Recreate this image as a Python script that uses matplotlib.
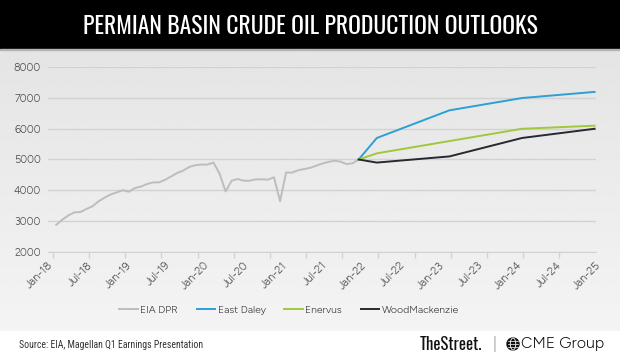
import numpy as np
import pandas as pd
import matplotlib.pyplot as plt
from matplotlib.patches import Rectangle, Ellipse
from matplotlib.lines import Line2D

# EIA DPR monthly, Jan-18 .. Mar-22 (kb/d)
eia_dates = pd.period_range('2018-01', '2022-03', freq='M')
eia_values = [2875, 3040, 3180, 3280, 3290, 3390, 3480, 3640, 3760, 3860, 3930, 4000,
              3950, 4070, 4120, 4200, 4255, 4255, 4340, 4450, 4560, 4640, 4760, 4815,
              4835, 4835, 4900, 4540, 3960, 4310, 4365, 4310, 4310, 4355, 4355, 4345,
              4420, 3645, 4575, 4575, 4650, 4690, 4730, 4800, 4870, 4920, 4960, 4930,
              4850, 4880, 5000]

# outlooks
fc_dates = pd.PeriodIndex(['2022-03', '2022-06', '2023-06', '2024-06', '2025-06'], freq='M')
east_daley = [5000, 5700, 6600, 7000, 7200]
enervus = [5000, 5200, 5600, 6000, 6100]
woodmac = [5000, 4900, 5100, 5700, 6000]

tick_labels = ['Jan-18', 'Jul-18', 'Jan-19', 'Jul-19', 'Jan-20', 'Jul-20', 'Jan-21', 'Jul-21',
               'Jan-22', 'Jul-22', 'Jan-23', 'Jul-23', 'Jan-24', 'Jul-24', 'Jan-25']


def month_index(p):
    return (p.year - 2018) * 12 + p.month - 1


FONT = ['Figtree', 'DejaVu Sans']
TITLE = ['Oswald', 'DejaVu Sans']
NARROW = ['Roboto Condensed', 'DejaVu Sans']

W, H = 620, 363
fig = plt.figure(figsize=(W / 100, H / 100), dpi=100)

# background: title bar, gray chart panel, white footer
bg = fig.add_axes([0, 0, 1, 1], zorder=-5)
bg.set_xlim(0, 1)
bg.set_ylim(0, 1)
bg.axis('off')
grad = np.linspace(0.955, 0.895, 200).reshape(-1, 1)
bg.imshow(grad, cmap='gray', vmin=0, vmax=1, aspect='auto',
          extent=(0, 1, 32 / H, 1 - 50 / H), origin='lower')
bg.add_patch(Rectangle((0, 0), 1, 32 / H, color='white'))
bg.add_patch(Rectangle((0, 1 - 49 / H), 1, 49 / H, color='black'))
bg.add_patch(Rectangle((0, 1 - 50 / H), 1, 1 / H, color='#b5b5b5'))

fig.text(310 / W, 1 - 26 / H, 'PERMIAN BASIN CRUDE OIL PRODUCTION OUTLOOKS', color='white',
         fontsize=17, fontweight='bold', family=TITLE, ha='center', va='center')

ax = fig.add_axes([48 / W, 1 - 251.7 / H, (595.5 - 48) / W, (251.7 - 67.3) / H])
ax.set_facecolor('none')

ax.plot([month_index(p) for p in eia_dates], eia_values, color='#bdbdbd', lw=1.4, label='EIA DPR')
fx = [month_index(p) for p in fc_dates]
ax.plot(fx, east_daley, color='#2c9fd6', lw=1.4, label='East Daley')
ax.plot(fx, enervus, color='#9fc93c', lw=1.4, label='Enervus')
ax.plot(fx, woodmac, color='#262930', lw=1.4, label='WoodMackenzie')

x0, x1 = -0.56, 89.15
ax.set_xlim(x0, x1)
ax.set_ylim(2000, 8000)
ax.set_yticks(range(2000, 8001, 1000))
ax.yaxis.grid(True, color='#d2d2d2', lw=1)
ax.set_axisbelow(True)
for s in ['top', 'right', 'left']:
    ax.spines[s].set_visible(False)
ax.spines['bottom'].set_color('#d2d2d2')
ax.tick_params(axis='y', length=0, pad=5, labelsize=7.8, labelcolor='#4a4a4a')
for t in ax.get_yticklabels():
    t.set_family(FONT)

ax.set_xticks(np.linspace(x0 - 0.8, x1, len(tick_labels)))
ax.set_xticklabels(tick_labels, rotation=45, ha='right', rotation_mode='anchor',
                   fontsize=8, color='#4a4a4a', family=FONT)
ax.tick_params(axis='x', which='major', length=0, pad=6)
ax.set_xticks(np.linspace(x0, x1, 16), minor=True)
ax.tick_params(axis='x', which='minor', length=4, color='#d2d2d2', width=1)

leg = fig.legend(loc='center', bbox_to_anchor=(289 / W, 1 - 310 / H), ncol=4, frameon=False,
                 prop={'family': FONT, 'size': 7.5}, handlelength=1.8, handletextpad=0.2,
                 columnspacing=1.8)
for t in leg.get_texts():
    t.set_color('#333333')

# footer
fig.text(19 / W, 1 - 345 / H, 'Source: EIA, Magellan Q1 Earnings Presentation',
         fontsize=7, family=NARROW, color='#333333', va='center')
fig.text(420 / W, 1 - 344 / H, 'TheStreet.', fontsize=12, fontweight='bold', family=TITLE,
         color='#111111', va='center')
fig.text(494 / W, 1 - 344 / H, '|', fontsize=11, family=FONT, color='#999999', va='center', ha='center')
fig.text(521 / W, 1 - 344 / H, 'CME Group', fontsize=11.5, family=FONT, color='#111111', va='center')
gx, gy, r = 513 / W, 1 - 344 / H, 6
bg.add_patch(Ellipse((gx, gy), 2 * r / W, 2 * r / H, color='#111111'))
bg.add_patch(Ellipse((gx, gy), 0.9 * r / W, 2 * r / H, fill=False, ec='white', lw=0.6))
for dy in (-0.45, 0, 0.45):
    bg.add_line(Line2D([gx - r * 0.9 / W, gx + r * 0.9 / W], [gy + dy * r / H] * 2, color='white', lw=0.5))

fig.savefig('out.png', dpi=100)
